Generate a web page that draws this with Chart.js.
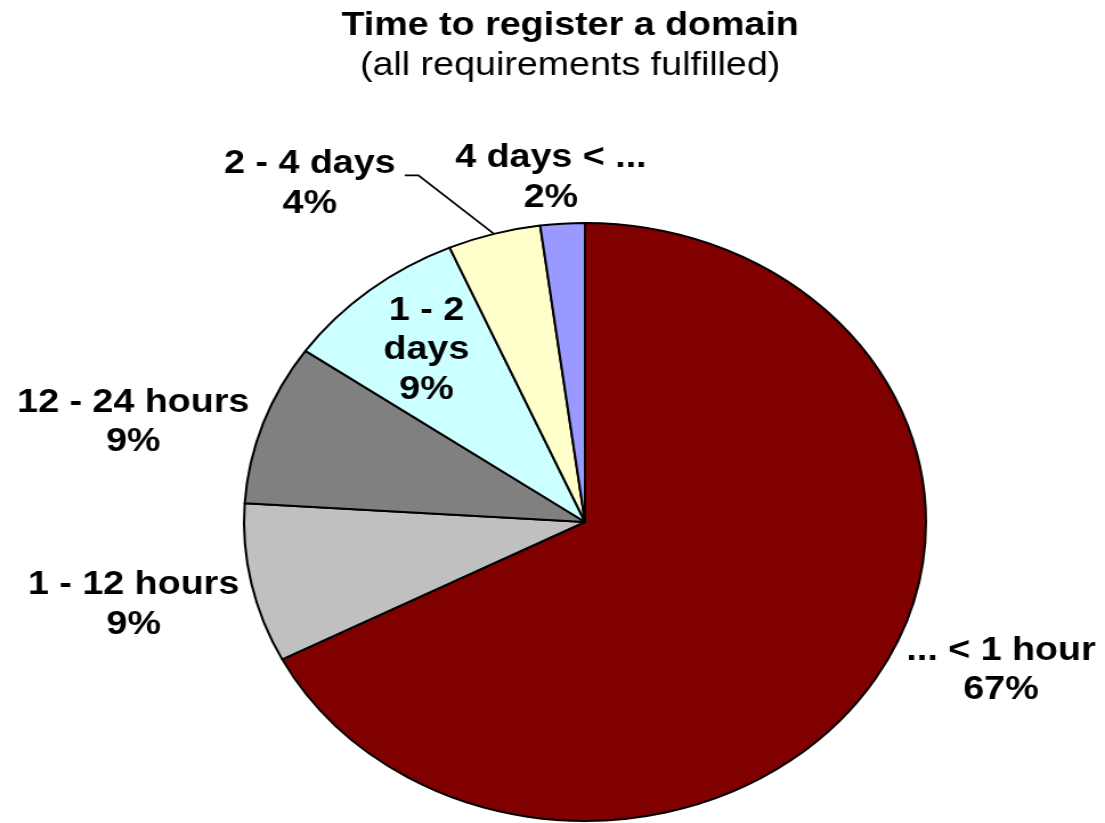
<!DOCTYPE html>
<html>
<head>
<meta charset="utf-8">
<script src="https://cdn.jsdelivr.net/npm/chart.js@4.4.1/dist/chart.umd.min.js"></script>
<style>
  html, body { margin: 0; padding: 0; background: #fff; overflow: hidden; }
  #pie { display: block; }
</style>
</head>
<body>
<!-- the original picture is stretched sideways, so the canvas is too -->
<canvas id="pie" width="969" height="823" style="width:1105px;height:823px"></canvas>
<script>
const categories = ['... < 1 hour', '1 - 12 hours', '12 - 24 hours', '1 - 2 days', '2 - 4 days', '4 days < ...']
const shares = [67.4, 8.6, 8.7, 8.8, 4.4, 2.1]
const sliceColors = ['#800000', '#c0c0c0', '#808080', '#ccffff', '#ffffcc', '#9999ff']
const titleText = 'Time to register a domain'
const subtitleText = '(all requirements fulfilled)'

const fontFamily = '"Liberation Sans", Arial, Helvetica, sans-serif'
const fontSize = 33
const lineHeight = 39.5

// where each label block sits, in pie radii from the centre
const labelPlacement = [
  {dx: 1.22, dy: 0.497},
  {dx: -1.324, dy: 0.277},
  {dx: -1.325, dy: -0.333},
  {dx: -0.465, dy: -0.575, wrap: 100},
  {dx: -0.807, dy: -1.13, leader: true},
  {dx: -0.1, dy: -1.15},
]

function wrapText(ctx, text, maxWidth) {
  if (!maxWidth) return [text]
  const words = text.split(' ')
  const lines = []
  let current = ''
  words.forEach(word => {
    const test = current ? current + ' ' + word : word
    if (current && ctx.measureText(test).width > maxWidth) {
      lines.push(current)
      current = word
    } else {
      current = test
    }
  })
  if (current) lines.push(current)
  return lines
}

const sliceLabels = {
  id: 'sliceLabels',
  afterDraw(chart) {
    const ctx = chart.ctx
    const arcs = chart.getDatasetMeta(0).data
    const total = shares.reduce((a, b) => a + b, 0)
    ctx.save()
    ctx.fillStyle = '#000'
    ctx.strokeStyle = '#000'
    ctx.lineWidth = 1.8
    ctx.textAlign = 'center'
    ctx.textBaseline = 'middle'
    ctx.font = `bold ${fontSize}px ${fontFamily}`

    arcs.forEach((arc, i) => {
      const place = labelPlacement[i]
      const r = arc.outerRadius
      const x = arc.x + place.dx * r
      const y = arc.y + place.dy * r
      const lines = wrapText(ctx, categories[i], place.wrap)
      lines.push(Math.round(shares[i] / total * 100) + '%')
      const top = y - (lines.length - 1) * lineHeight / 2
      lines.forEach((line, k) => ctx.fillText(line, x, top + k * lineHeight))

      if (place.leader) {
        const mid = (arc.startAngle + arc.endAngle) / 2
        const startX = x + ctx.measureText(lines[0]).width / 2 + 8
        const startY = top + 11
        ctx.beginPath()
        ctx.moveTo(startX, startY)
        ctx.lineTo(startX + 12, startY)
        ctx.lineTo(arc.x + Math.cos(mid) * r, arc.y + Math.sin(mid) * r)
        ctx.stroke()
      }
    })

    ctx.textBaseline = 'alphabetic'
    ctx.font = `bold ${fontSize}px ${fontFamily}`
    ctx.fillText(titleText, 500, 35)
    ctx.font = `${fontSize}px ${fontFamily}`
    ctx.fillText(subtitleText, 500, 75)
    ctx.restore()
  }
}

new Chart(document.getElementById('pie').getContext('2d'), {
  type: 'pie',
  data: {
    labels: categories,
    datasets: [{
      data: shares,
      backgroundColor: sliceColors,
      borderColor: '#000',
      borderWidth: 2,
    }],
  },
  options: {
    responsive: false,
    animation: false,
    devicePixelRatio: 1,
    layout: {
      padding: {left: 213, right: 156, top: 221, bottom: 0},
    },
    plugins: {
      legend: {display: false},
      tooltip: {enabled: false},
      title: {display: false},
    },
  },
  plugins: [sliceLabels],
})
</script>
</body>
</html>
